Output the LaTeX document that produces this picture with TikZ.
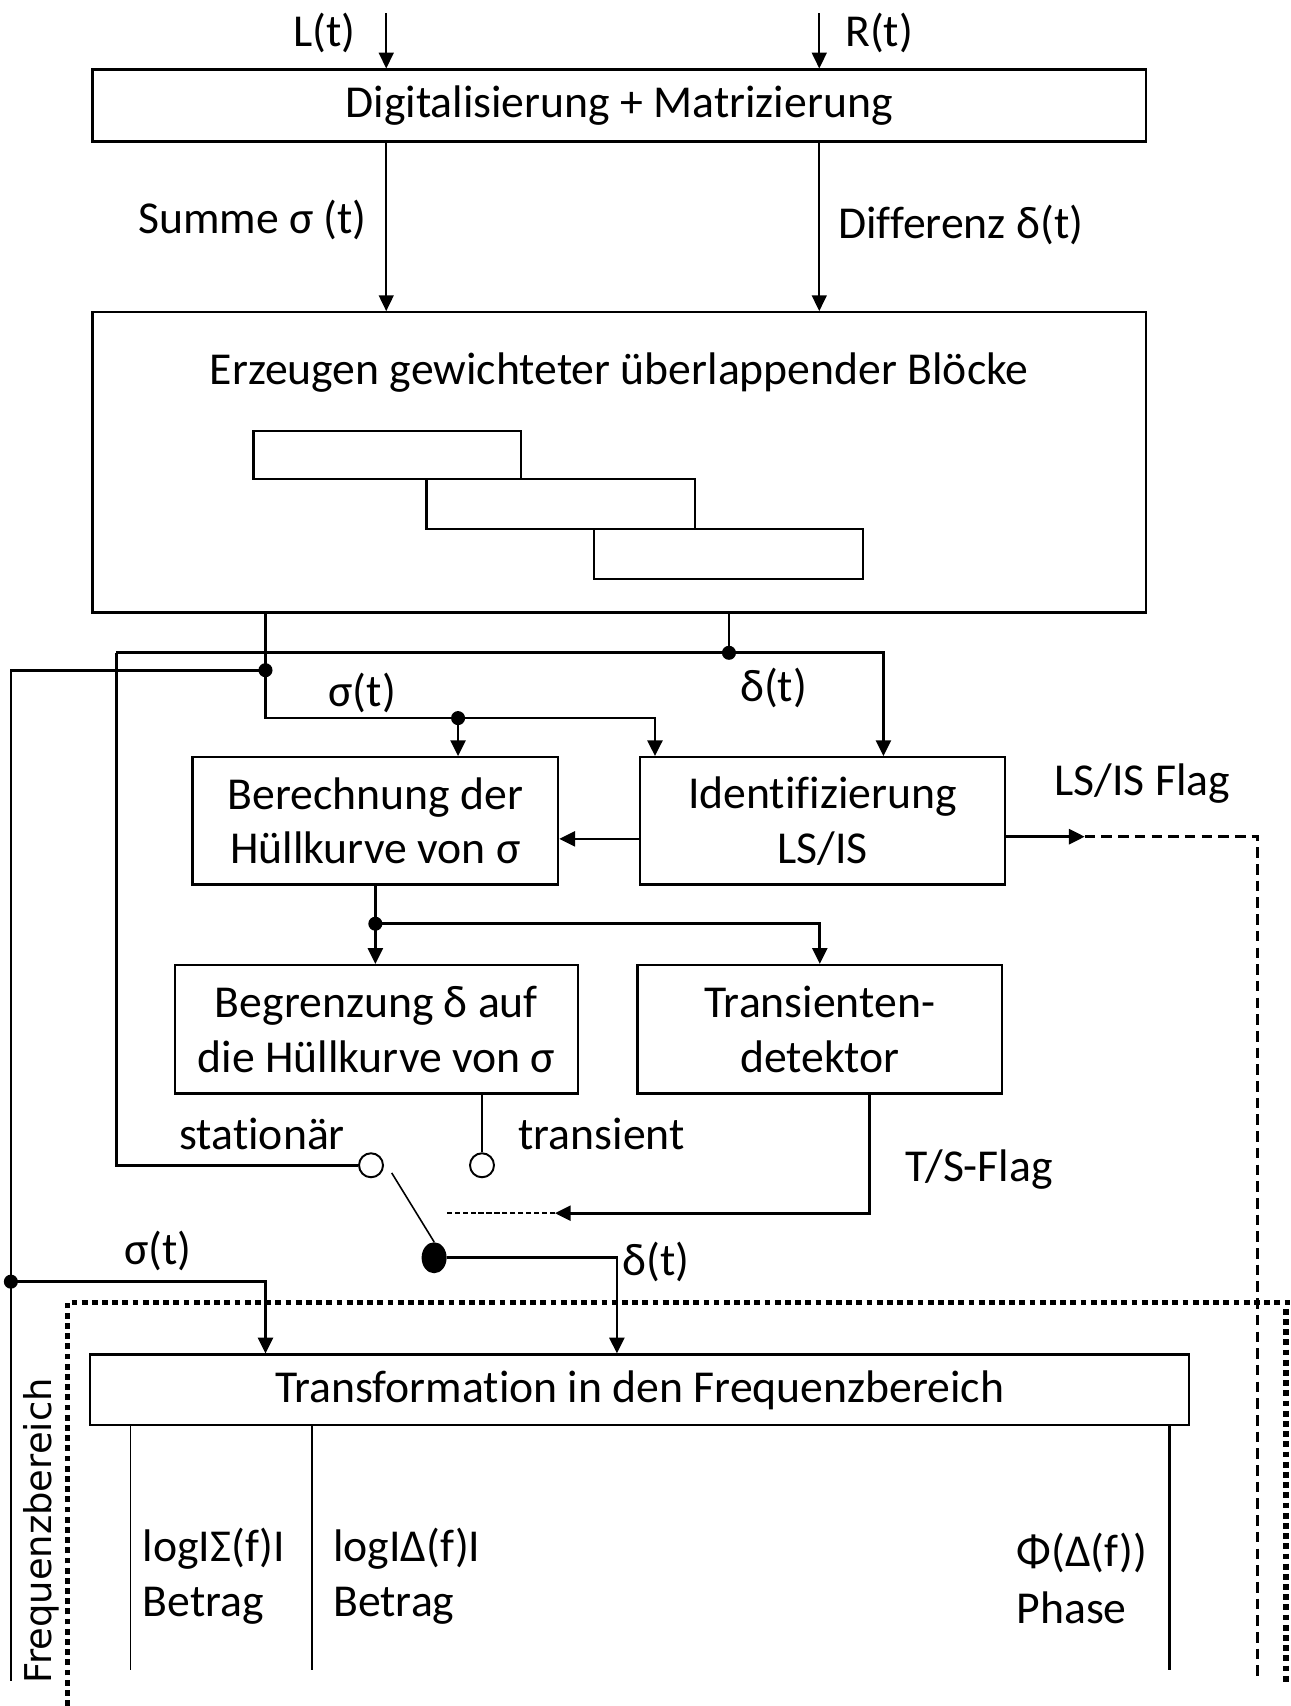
\documentclass[tikz,border=0pt]{standalone}
\usepackage{fontspec}
\setmainfont{Carlito}[Ligatures=NoCommon]
\newfontfamily\dejavu{DejaVu Sans}
\usetikzlibrary{arrows.meta,fit,shapes.geometric}

\begin{document}
\begin{tikzpicture}[x=0.021754cm,y=-0.021754cm,
  font=\fontsize{26}{31}\selectfont,
  box/.style={draw,line width=1.3pt,inner sep=0pt},
  txt/.style={inner sep=0pt,align=center},
  sig/.style={line width=1.55pt},
  thinl/.style={line width=0.9pt},
  arr/.style={-{Triangle[length=9pt,width=8.5pt]}},
  dot/.style={circle,fill,inner sep=0pt,minimum size=8pt},
  port/.style={circle,draw,line width=1.1pt,fill=white,inner sep=0pt,minimum size=0.48cm},
  lbl/.style={inner sep=0pt},
  flagline/.style={line width=1.5pt,dash pattern=on 6pt off 3.5pt},
  region/.style={line width=3pt,dash pattern=on 3.3pt off 2.5pt}
]
\useasboundingbox[fill=white] (0,0) rectangle (1186,1568);

% --- blocks ---
\node[box, fit={(85,64) (1053,130)}] (dig) {};
\node[txt] at (dig.center) {Digitalisierung + Matrizierung};
\node[box, fit={(85,287) (1053,563)}] (gen) {};
\node[txt] (gentxt) at (569,342) {Erzeugen gewichteter überlappender Blöcke};
\node[box, fit={(233,396) (479,440)}] (w1) {};
\node[box, fit={(392,440) (639,486)}] (w2) {};
\node[box, fit={(546,486) (793,532)}] (w3) {};
\node[box, fit={(177,696) (513,813)}] (env) {};
\node[txt] at (env.center) {Berechnung der\\Hüllkurve von σ};
\node[box, fit={(588,696) (924,813)}] (ident) {};
\node[txt] at (ident.center) {Identifizierung\\LS/IS};
\node[box, fit={(161,887) (531,1005)}] (lim) {};
\node[txt] at (lim.center) {Begrenzung δ auf\\die Hüllkurve von σ};
\node[box, fit={(586,887) (921,1005)}] (tdet) {};
\node[txt] at (tdet.center) {Transienten-\\detektor};
\node[box, fit={(83,1245) (1093,1310)}] (trans) {};
\node[txt] at (trans.center) {Transformation in den Frequenzbereich};

% --- inputs ---
\coordinate (Lin) at (355,12);
\coordinate (Rin) at (753,12);
\draw[thinl,arr] (Lin) -- (dig.north -| Lin);
\draw[thinl,arr] (Rin) -- (dig.north -| Rin);
\node[lbl] (lt) at (298,30) {L(t)};
\node[lbl] (rt) at (808,30) {R(t)};

% --- sum / difference ---
\draw[thinl,arr] (dig.south -| Lin) -- (gen.north -| Lin);
\draw[thinl,arr] (dig.south -| Rin) -- (gen.north -| Rin);
\node[lbl] (sumlbl) at (232,202) {Summe σ (t)};
\node[lbl] (diflbl) at (883,207) {Differenz δ(t)};

% --- signal distribution ---
\coordinate (sA) at (244,616);
\coordinate (sB) at (244,660);
\coordinate (sC) at (421,660);
\coordinate (sD) at (602,660);
\coordinate (dA) at (670,600);
\coordinate (dL) at (107,600);
\coordinate (dR) at (812,600);
\coordinate (sL) at (10,616);
\coordinate (sL2) at (10,1178);
\coordinate (sLend) at (10,1545);
\coordinate (sT) at (244,1178);

\node[port] (stat) at (341,1071) {};
\node[port] (trn) at (443,1071) {};

\draw[sig,arr] (gen.south -| sA) -- (sB) -- (sD) -- (ident.north -| sD);
\draw[sig,arr] (sC) -- (env.north -| sC);
\draw[sig] (sA) -- (sL) -- (sLend);
\draw[sig,arr] (sL2) -- (sT) -- (trans.north -| sT);
\draw[sig] (gen.south -| dA) -- (dA);
\draw[sig,arr] (dL) -- (dR) -- (ident.north -| dR);
\draw[sig] (dL) -- (dL |- stat) -- (stat.west);

\node[dot] at (sA) {};
\node[dot] at (sC) {};
\node[dot] at (dA) {};
\node[dot] at (sL2) {};

\node[lbl] (s1) at (333,637) {σ(t)};
\node[lbl] (d1) at (711,632) {δ(t)};

% --- identification ---
\coordinate (fb) at (550,771);
\draw[sig,arr] (ident.west |- fb) -- (env.east |- fb);
\coordinate (flag) at (997,769);
\coordinate (flagC) at (1156,769);
\coordinate (flagE) at (1156,1542);
\draw[sig,arr] (ident.east |- flag) -- (flag);
\draw[flagline] (flag) -- (flagC) -- (flagE);
\node[lbl] (flaglbl) at (1050,720) {LS/IS Flag};

% --- envelope branch ---
\coordinate (j2) at (345,849);
\draw[sig] (env.south -| j2) -- (j2);
\draw[sig,arr] (j2) -- (lim.north -| j2);
\draw[sig,arr] (j2) -- (j2 -| tdet.north) -- (tdet.north);
\node[dot] at (j2) {};

% --- switch ---
\draw[sig] (lim.south -| trn) -- (trn.north);
\node[lbl] (statlbl) at (241,1042) {stationär};
\node[lbl] (trnlbl) at (553,1042) {transient};
\node[ellipse,fill,inner sep=0pt,minimum width=0.5cm,minimum height=0.62cm] (piv) at (399,1156) {};
\coordinate (lev) at (360,1078);
\draw[thinl] (lev) -- (piv.north);
\coordinate (dT) at (567,1156);
\draw[sig,arr] (piv.east) -- (dT) -- (trans.north -| dT);
\node[lbl] (d2) at (603,1160) {δ(t)};
\node[lbl] (s2) at (145,1150) {σ(t)};

% --- transient flag ---
\coordinate (ts0) at (799,1115);
\coordinate (tsTip) at (510,1115);
\coordinate (tsEnd) at (410,1115);
\draw[sig,arr] (tdet.south -| ts0) -- (ts0) -- (tsTip);
\draw[line width=0.8pt,dash pattern=on 3pt off 1.5pt] (tsTip) -- (tsEnd);
\node[lbl] (tslbl) at (900,1075) {T/S-Flag};

% --- frequency domain ---
\draw[region] (62,1568) -- (62,1197) -- (1186,1197);
\draw[region] (1182,1203) -- (1182,1548);
\node[rotate=90,inner sep=0pt,font=\dejavu\fontsize{21}{25}\selectfont] (fbl) at (38,1407) {Frequenzbereich};

\coordinate (o1) at (120,1535);
\coordinate (o2) at (287,1535);
\coordinate (o3) at (1075,1535);
\draw[thinl] (trans.south -| o1) -- (o1);
\draw[thinl] (trans.south -| o2) -- (o2);
\draw[sig] (trans.south -| o3) -- (o3);

\node[lbl,anchor=west] (m1) at (131,1423) {logIΣ(f)I};
\node[lbl,anchor=west] (b1) at (131,1476) {Betrag};
\node[lbl,anchor=west] (m2) at (306,1423) {logIΔ(f)I};
\node[lbl,anchor=west] (b2) at (306,1476) {Betrag};
\node[lbl,anchor=west] (p1) at (934,1427) {Φ(Δ(f))};
\node[lbl,anchor=west] (p2) at (934,1478) {Phase};
\end{tikzpicture}
\end{document}
